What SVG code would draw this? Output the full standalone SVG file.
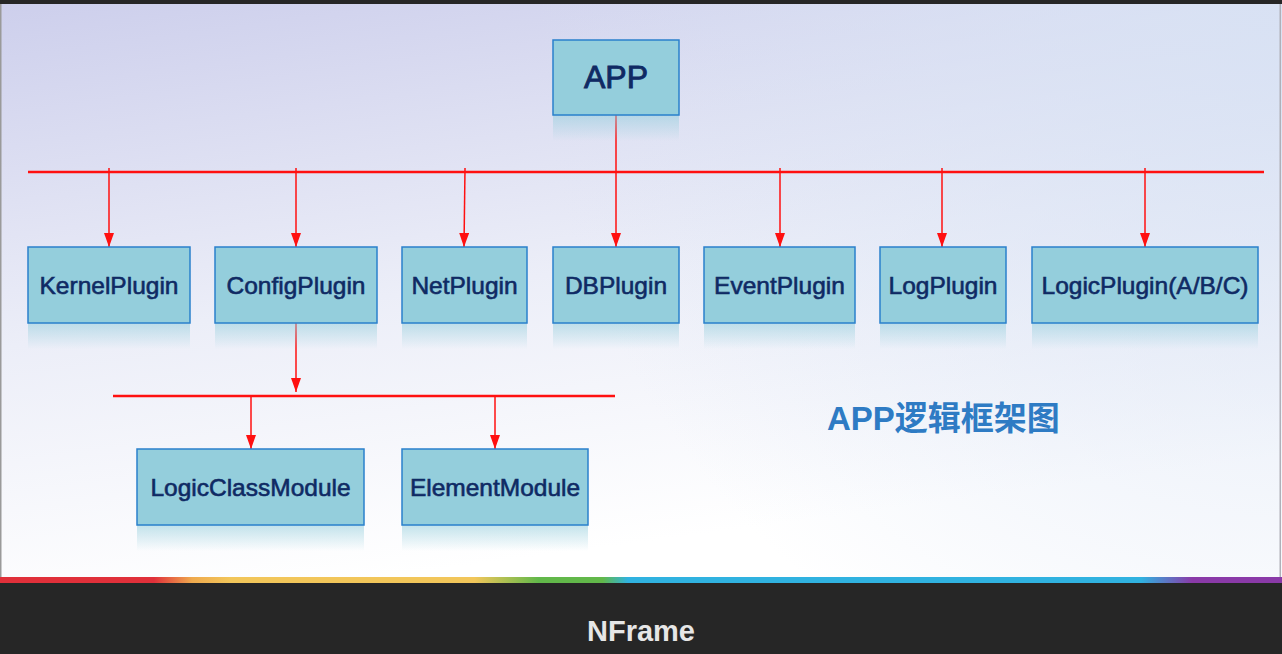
<svg xmlns="http://www.w3.org/2000/svg" width="1282" height="654" viewBox="0 0 1282 654">
<style>
.box{fill:#94cedc;stroke:#2a80cc;stroke-width:1.5}
.refl{fill:url(#reflG)}
.lbl{font-family:"Liberation Sans",Arial,sans-serif;font-size:24.5px;fill:#0f2a64;stroke:#0f2a64;stroke-width:0.6;text-anchor:middle}
.bus{stroke:#ff1010;stroke-width:2.5;fill:none}
.arr{stroke:#ff1010;stroke-width:1.5;fill:none;marker-end:url(#ah)}
</style>
<defs>
<linearGradient id="bg" x1="0" y1="0" x2="0.3" y2="1">
<stop offset="0" stop-color="#cdcfec"/>
<stop offset="0.55" stop-color="#eceef8"/>
<stop offset="1" stop-color="#ffffff"/>
</linearGradient>
<radialGradient id="bg2" gradientUnits="userSpaceOnUse" cx="1282" cy="0" r="750">
<stop offset="0" stop-color="#d8e2f4" stop-opacity="0.9"/>
<stop offset="1" stop-color="#d8e2f4" stop-opacity="0"/>
</radialGradient>
<linearGradient id="reflG" x1="0" y1="0" x2="0" y2="1">
<stop offset="0" stop-color="#94cedc" stop-opacity="0.55"/>
<stop offset="1" stop-color="#94cedc" stop-opacity="0"/>
</linearGradient>
<linearGradient id="rainbow" x1="0" y1="0" x2="1" y2="0">
<stop offset="0" stop-color="#e0303a"/>
<stop offset="0.12" stop-color="#e0303a"/>
<stop offset="0.15" stop-color="#efaa4e"/>
<stop offset="0.18" stop-color="#f2c65a"/>
<stop offset="0.37" stop-color="#f2c65a"/>
<stop offset="0.42" stop-color="#62b84a"/>
<stop offset="0.47" stop-color="#62b84a"/>
<stop offset="0.49" stop-color="#30b2e0"/>
<stop offset="0.89" stop-color="#30b2e0"/>
<stop offset="0.93" stop-color="#8a3aa8"/>
<stop offset="1" stop-color="#8a3aa8"/>
</linearGradient>
<marker id="ah" markerWidth="14" markerHeight="10" refX="14" refY="5" orient="auto" markerUnits="userSpaceOnUse" viewBox="0 0 14 10">
<path d="M0,0 L14,5 L0,10 Z" fill="#ff1010"/>
</marker>
</defs>
<!-- background -->
<rect x="0" y="0" width="1282" height="654" fill="#262626"/>
<rect x="0" y="4" width="1282" height="573" fill="url(#bg)"/>
<rect x="0" y="4" width="1282" height="573" fill="url(#bg2)"/>
<rect x="0" y="4" width="1.5" height="573" fill="#9a9a9a"/>
<rect x="1279.5" y="4" width="1.5" height="573" fill="#b0b0b8"/>
<rect x="0" y="577" width="1282" height="6" fill="url(#rainbow)"/>
<rect x="0" y="583" width="1282" height="71" fill="#262626"/>
<text x="641" y="641" font-family="'Liberation Sans',Arial,sans-serif" font-size="29" font-weight="bold" fill="#e6e6e6" text-anchor="middle">NFrame</text>

<!-- connectors -->
<g id="connectors">
<line class="bus" x1="28" y1="172" x2="1264" y2="172"/>
<line class="bus" x1="113" y1="396" x2="615" y2="396"/>
<line x1="616" y1="115" x2="616" y2="247" class="arr"/>
<line x1="109" y1="168" x2="109" y2="247" class="arr"/>
<line x1="296" y1="168" x2="296" y2="247" class="arr"/>
<line x1="465" y1="168" x2="464" y2="247" class="arr"/>
<line x1="780" y1="168" x2="780" y2="247" class="arr"/>
<line x1="942" y1="168" x2="942" y2="247" class="arr"/>
<line x1="1145" y1="168" x2="1145" y2="247" class="arr"/>
<line x1="296" y1="323" x2="296" y2="392" class="arr"/>
<line x1="251" y1="396" x2="251" y2="449" class="arr"/>
<line x1="495" y1="396" x2="495" y2="449" class="arr"/>
</g>

<!-- nodes -->
<g id="node-app">
<rect class="refl" x="553" y="115" width="126" height="26"/>
<rect class="box" x="553" y="40" width="126" height="75"/>
<text class="lbl" x="616" y="88" style="font-size:32px;stroke-width:0.9">APP</text>
</g>
<g id="node-kernel">
<rect class="refl" x="28" y="323" width="162" height="26"/>
<rect class="box" x="28" y="247" width="162" height="76"/>
<text class="lbl" x="109" y="294">KernelPlugin</text>
</g>
<g id="node-config">
<rect class="refl" x="215" y="323" width="162" height="26"/>
<rect class="box" x="215" y="247" width="162" height="76"/>
<text class="lbl" x="296" y="294">ConfigPlugin</text>
</g>
<g id="node-net">
<rect class="refl" x="402" y="323" width="125" height="26"/>
<rect class="box" x="402" y="247" width="125" height="76"/>
<text class="lbl" x="464.5" y="294">NetPlugin</text>
</g>
<g id="node-db">
<rect class="refl" x="553" y="323" width="126" height="26"/>
<rect class="box" x="553" y="247" width="126" height="76"/>
<text class="lbl" x="616" y="294">DBPlugin</text>
</g>
<g id="node-event">
<rect class="refl" x="704" y="323" width="151" height="26"/>
<rect class="box" x="704" y="247" width="151" height="76"/>
<text class="lbl" x="779.5" y="294">EventPlugin</text>
</g>
<g id="node-log">
<rect class="refl" x="880" y="323" width="126" height="26"/>
<rect class="box" x="880" y="247" width="126" height="76"/>
<text class="lbl" x="943" y="294">LogPlugin</text>
</g>
<g id="node-logic">
<rect class="refl" x="1032" y="323" width="226" height="26"/>
<rect class="box" x="1032" y="247" width="226" height="76"/>
<text class="lbl" x="1145" y="294">LogicPlugin(A/B/C)</text>
</g>
<g id="node-logicclass">
<rect class="refl" x="137" y="525" width="227" height="26"/>
<rect class="box" x="137" y="449" width="227" height="76"/>
<text class="lbl" x="250.5" y="496">LogicClassModule</text>
</g>
<g id="node-element">
<rect class="refl" x="402" y="525" width="186" height="26"/>
<rect class="box" x="402" y="449" width="186" height="76"/>
<text class="lbl" x="495" y="496">ElementModule</text>
</g>

<text x="827" y="430" font-family="'Liberation Sans','Noto Sans CJK SC',sans-serif" font-size="33" font-weight="bold" fill="#2e7bc4">APP逻辑框架图</text>
</svg>
